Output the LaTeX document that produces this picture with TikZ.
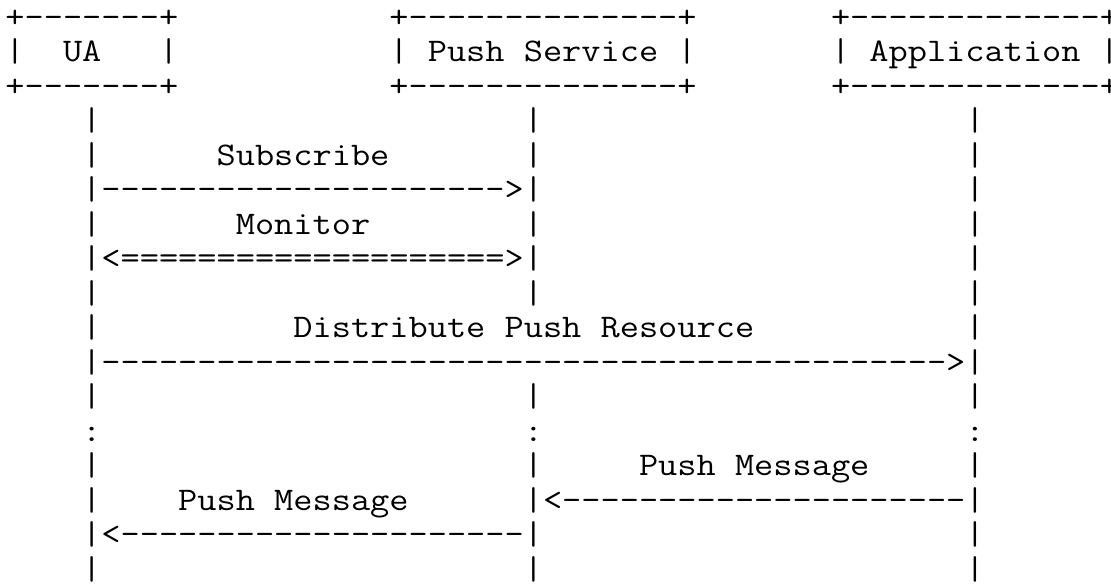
\documentclass[tikz,border=0pt]{standalone}
\usepackage{fontspec}
\setmonofont{Latin Modern Mono}
\newlength\asciicw
\newcommand\asc[1]{\scalebox{\asciixs}[1]{#1}}
\begin{document}
\settowidth\asciicw{\ttfamily\fontsize{16.5pt}{17.25pt}\selectfont M}%
\pgfmathsetmacro\asciixs{9.6pt/\asciicw}%
\begin{tikzpicture}[
  ch/.style={anchor=base west, inner sep=0pt, outer sep=0pt,
    font=\ttfamily\fontsize{16.5pt}{17.25pt}\selectfont, text=black}]
\useasboundingbox (0pt,0pt) rectangle (555.5pt,-292pt);
\fill[white] (0pt,0pt) rectangle (555.5pt,-292pt);
\begin{scope}[x=9.6pt, y=-17.25pt, shift={(2.7pt,-13.6pt)}]
  % boxes
  \node[ch] (ua-t) at (0,0) {\asc{+-------+}};
  \node[ch] (ua-l) at (0,1) {\asc{|}};
  \node[ch] (ua)   at (3,1) {\asc{UA}};
  \node[ch] (ua-r) at (8,1) {\asc{|}};
  \node[ch] (ua-b) at (0,2) {\asc{+-------+}};
  \node[ch] (ps-t) at (20,0) {\asc{+--------------+}};
  \node[ch] (ps-l) at (20,1) {\asc{|}};
  \node[ch] (ps)   at (22,1) {\asc{Push Service}};
  \node[ch] (ps-r) at (35,1) {\asc{|}};
  \node[ch] (ps-b) at (20,2) {\asc{+--------------+}};
  \node[ch] (app-t) at (43,0) {\asc{+-------------+}};
  \node[ch] (app-l) at (43,1) {\asc{|}};
  \node[ch] (app)   at (45,1) {\asc{Application}};
  \node[ch] (app-r) at (57,1) {\asc{|}};
  \node[ch] (app-b) at (43,2) {\asc{+-------------+}};
  % lifelines
  \foreach \r in {3,...,11,13,14,15,16} {
    \node[ch] (ua-line\r) at (4,\r) {\asc{|}};
    \node[ch] (app-line\r) at (50,\r) {\asc{|}};
  }
  \foreach \r in {3,...,8,11,13,14,15,16} {
    \node[ch] (ps-line\r) at (27,\r) {\asc{|}};
  }
  \node[ch] (ua-gap)  at (4,12) {\asc{:}};
  \node[ch] (ps-gap)  at (27,12) {\asc{:}};
  \node[ch] (app-gap) at (50,12) {\asc{:}};
  % messages
  \node[ch] (sub)    at (11,4) {\asc{Subscribe}};
  \node[ch] (sub-a)  at (5,5)  {\asc{--------------------->}};
  \node[ch] (mon)    at (12,6) {\asc{Monitor}};
  \node[ch] (mon-a)  at (5,7)  {\asc{<====================>}};
  \node[ch] (dist)   at (15,9) {\asc{Distribute Push Resource}};
  \node[ch] (dist-a) at (5,10) {\asc{-------------------------------------------->}};
  \node[ch] (pm1)    at (33,13) {\asc{Push Message}};
  \node[ch] (pm1-a)  at (28,14) {\asc{<---------------------}};
  \node[ch] (pm2)    at (9,14)  {\asc{Push Message}};
  \node[ch] (pm2-a)  at (5,15)  {\asc{<---------------------}};
\end{scope}
\end{tikzpicture}
\end{document}
